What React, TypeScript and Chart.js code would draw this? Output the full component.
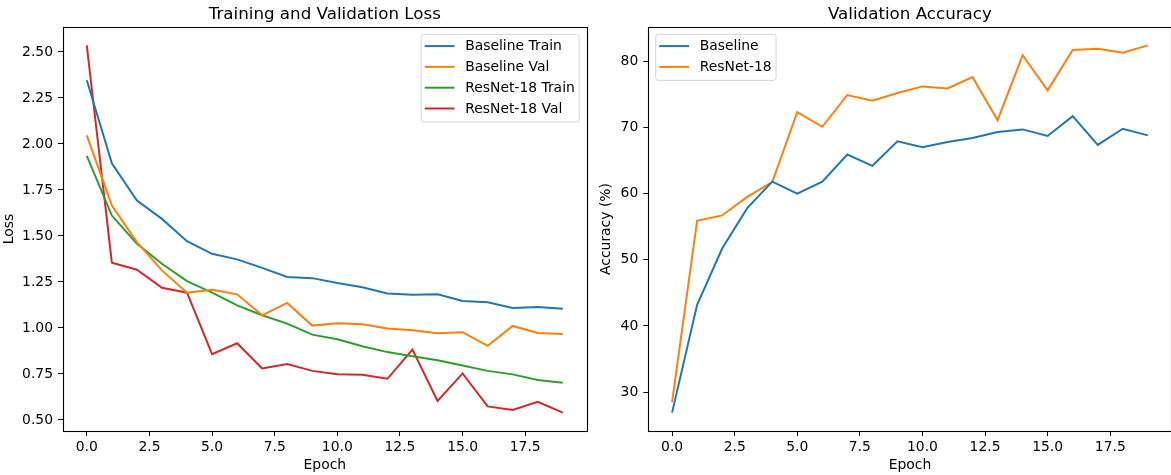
import React, { useEffect, useRef } from "react";
import { Chart, registerables } from "chart.js";

Chart.register(...registerables);

// ---------------- data ----------------
const epochs = [0, 1, 2, 3, 4, 5, 6, 7, 8, 9, 10, 11, 12, 13, 14, 15, 16, 17, 18, 19];

const baselineTrainLoss = [2.346, 1.895, 1.692, 1.593, 1.472, 1.403, 1.373, 1.327, 1.277, 1.271, 1.244, 1.221, 1.188, 1.181, 1.183, 1.147, 1.14, 1.109, 1.114, 1.105];
const baselineValLoss = [2.047, 1.665, 1.467, 1.313, 1.192, 1.208, 1.183, 1.069, 1.136, 1.013, 1.026, 1.02, 0.997, 0.988, 0.972, 0.977, 0.903, 1.011, 0.973, 0.968];
const resnetTrainLoss = [1.935, 1.611, 1.458, 1.349, 1.255, 1.192, 1.123, 1.069, 1.024, 0.964, 0.939, 0.901, 0.869, 0.847, 0.825, 0.796, 0.767, 0.748, 0.717, 0.702];
const resnetValLoss = [2.536, 1.355, 1.317, 1.219, 1.192, 0.858, 0.917, 0.78, 0.804, 0.767, 0.749, 0.746, 0.724, 0.883, 0.603, 0.753, 0.574, 0.554, 0.599, 0.54];

const baselineValAcc = [26.9, 43.2, 51.7, 57.8, 61.8, 60.0, 61.8, 65.9, 64.2, 67.9, 67.0, 67.8, 68.4, 69.3, 69.7, 68.7, 71.7, 67.35, 69.8, 68.8];
const resnetValAcc = [28.5, 55.9, 56.7, 59.5, 61.75, 72.3, 70.1, 74.9, 74.05, 75.2, 76.2, 75.9, 77.6, 71.1, 80.9, 75.6, 81.7, 81.9, 81.3, 82.4];

const epochTicks = [0, 2.5, 5, 7.5, 10, 12.5, 15, 17.5];
const lossTicks = [0.5, 0.75, 1.0, 1.25, 1.5, 1.75, 2.0, 2.25, 2.5];
const accTicks = [30, 40, 50, 60, 70, 80];

// ---------------- style ----------------
const FONT = "'DejaVu Sans', 'Liberation Sans', sans-serif";
const BLUE = "#1f77b4";
const ORANGE = "#ff7f0e";
const GREEN = "#2ca02c";
const RED = "#d62728";

function paddedRange(arrays: number[][]) {
  const all = arrays.flat();
  const mn = Math.min(...all);
  const mx = Math.max(...all);
  const m = (mx - mn) * 0.05;
  return { min: mn - m, max: mx + m };
}

function series(label: string, ys: number[], color: string) {
  return {
    label,
    data: epochs.map((x, i) => ({ x, y: ys[i] })),
    borderColor: color,
    backgroundColor: color,
    borderWidth: 2,
    pointRadius: 0,
    tension: 0,
    fill: false,
  };
}

const decorPlugin = {
  id: "mplDecor",
  afterDraw(chart: any, _args: any, opts: any) {
    const { ctx, chartArea: ca } = chart;
    ctx.save();
    // frame (all four spines)
    ctx.strokeStyle = "#000";
    ctx.lineWidth = 1.1;
    ctx.strokeRect(Math.round(ca.left) + 0.5, Math.round(ca.top) + 0.5, Math.round(ca.right - ca.left), Math.round(ca.bottom - ca.top));

    // title
    ctx.fillStyle = "#000";
    ctx.font = `16.7px ${FONT}`;
    ctx.textAlign = "center";
    ctx.textBaseline = "alphabetic";
    ctx.fillText(opts.title, (ca.left + ca.right) / 2, ca.top - 8.3);

    // legend
    ctx.font = `13.9px ${FONT}`;
    const items = chart.data.datasets.map((d: any) => ({ label: d.label, color: d.borderColor }));
    const textW = Math.max(...items.map((it: any) => ctx.measureText(it.label).width));
    const textStart = 44;
    const w = textStart + textW + 4.5;
    const rowH = 20.8;
    const h = rowH * items.length + 4.5;
    const x = opts.legendLoc === "upper right" ? ca.right - 7.3 - w : ca.left + 7.4;
    const y = ca.top + 7.3;
    const r = 3;
    ctx.beginPath();
    ctx.moveTo(x + r, y);
    ctx.lineTo(x + w - r, y);
    ctx.arcTo(x + w, y, x + w, y + r, r);
    ctx.lineTo(x + w, y + h - r);
    ctx.arcTo(x + w, y + h, x + w - r, y + h, r);
    ctx.lineTo(x + r, y + h);
    ctx.arcTo(x, y + h, x, y + h - r, r);
    ctx.lineTo(x, y + r);
    ctx.arcTo(x, y, x + r, y, r);
    ctx.closePath();
    ctx.fillStyle = "rgba(255,255,255,0.8)";
    ctx.fill();
    ctx.strokeStyle = "rgba(204,204,204,0.8)";
    ctx.lineWidth = 1;
    ctx.stroke();
    items.forEach((it: any, i: number) => {
      const cy = y + 11.8 + i * rowH;
      ctx.beginPath();
      ctx.moveTo(x + 3.5, cy);
      ctx.lineTo(x + 33.3, cy);
      ctx.strokeStyle = it.color;
      ctx.lineWidth = 2;
      ctx.stroke();
      ctx.fillStyle = "#000";
      ctx.textAlign = "left";
      ctx.textBaseline = "middle";
      ctx.fillText(it.label, x + textStart, cy + 0.5);
    });
    ctx.restore();
  },
};

function makeOptions(p: {
  title: string;
  legendLoc: string;
  yTitle: string;
  yTicks: number[];
  yRange: { min: number; max: number };
  yWidth: number;
  yDecimals: number;
  yTitlePad: number;
  padRight: number;
}) {
  const tickFont = { size: 13.9, family: FONT };
  return {
    responsive: false,
    animation: false as const,
    events: [],
    layout: { padding: { top: 27, left: 0, right: p.padRight, bottom: 0 } },
    plugins: {
      legend: { display: false },
      tooltip: { enabled: false },
      title: { display: false },
      mplDecor: { title: p.title, legendLoc: p.legendLoc },
    },
    scales: {
      x: {
        type: "linear" as const,
        min: -0.95,
        max: 19.95,
        afterBuildTicks: (s: any) => {
          s.ticks = epochTicks.map((v) => ({ value: v }));
        },
        afterFit: (s: any) => {
          s.height = 44;
        },
        ticks: {
          callback: (v: any) => Number(v).toFixed(1),
          font: tickFont,
          color: "#000",
          padding: 3,
          maxRotation: 0,
          autoSkip: false,
        },
        grid: { drawOnChartArea: false, drawTicks: true, tickLength: 5, color: "#000", lineWidth: 1 },
        border: { display: false },
        title: { display: true, text: "Epoch", font: tickFont, color: "#000", padding: { top: 0, bottom: 1 } },
      },
      y: {
        type: "linear" as const,
        min: p.yRange.min,
        max: p.yRange.max,
        afterBuildTicks: (s: any) => {
          s.ticks = p.yTicks.map((v) => ({ value: v }));
        },
        afterFit: (s: any) => {
          s.width = p.yWidth;
        },
        ticks: {
          callback: (v: any) => Number(v).toFixed(p.yDecimals),
          font: tickFont,
          color: "#000",
          padding: 5,
          autoSkip: false,
        },
        grid: { drawOnChartArea: false, drawTicks: true, tickLength: 5, color: "#000", lineWidth: 1 },
        border: { display: false },
        title: { display: true, text: p.yTitle, font: tickFont, color: "#000", padding: { top: p.yTitlePad, bottom: 0 } },
      },
    },
  };
}

function LossChart() {
  const ref = useRef<HTMLCanvasElement>(null);
  useEffect(() => {
    if (!ref.current) return;
    const chart = new Chart(ref.current, {
      type: "line",
      data: {
        datasets: [
          series("Baseline Train", baselineTrainLoss, BLUE),
          series("Baseline Val", baselineValLoss, ORANGE),
          series("ResNet-18 Train", resnetTrainLoss, GREEN),
          series("ResNet-18 Val", resnetValLoss, RED),
        ],
      },
      options: makeOptions({
        title: "Training and Validation Loss",
        legendLoc: "upper right",
        yTitle: "Loss",
        yTicks: lossTicks,
        yRange: paddedRange([baselineTrainLoss, baselineValLoss, resnetTrainLoss, resnetValLoss]),
        yWidth: 63,
        yDecimals: 2,
        yTitlePad: 1,
        padRight: 3.4,
      }) as any,
      plugins: [decorPlugin],
    });
    return () => chart.destroy();
  }, []);
  return <canvas ref={ref} width={590} height={475} style={{ position: "absolute", left: 0, top: 0, width: 590, height: 475 }} />;
}

function AccChart() {
  const ref = useRef<HTMLCanvasElement>(null);
  useEffect(() => {
    if (!ref.current) return;
    const chart = new Chart(ref.current, {
      type: "line",
      data: {
        datasets: [series("Baseline", baselineValAcc, BLUE), series("ResNet-18", resnetValAcc, ORANGE)],
      },
      options: makeOptions({
        title: "Validation Accuracy",
        legendLoc: "upper left",
        yTitle: "Accuracy (%)",
        yTicks: accTicks,
        yRange: paddedRange([baselineValAcc, resnetValAcc]),
        yWidth: 58.3,
        yDecimals: 0,
        yTitlePad: 8,
        padRight: 0.4,
      }) as any,
      plugins: [decorPlugin],
    });
    return () => chart.destroy();
  }, []);
  return <canvas ref={ref} width={582} height={475} style={{ position: "absolute", left: 590, top: 0, width: 582, height: 475 }} />;
}

export default function App() {
  return (
    <div style={{ position: "fixed", left: 0, top: 0, width: 1171, height: 475, overflow: "hidden", background: "#fff" }}>
      <LossChart />
      <AccChart />
    </div>
  );
}
